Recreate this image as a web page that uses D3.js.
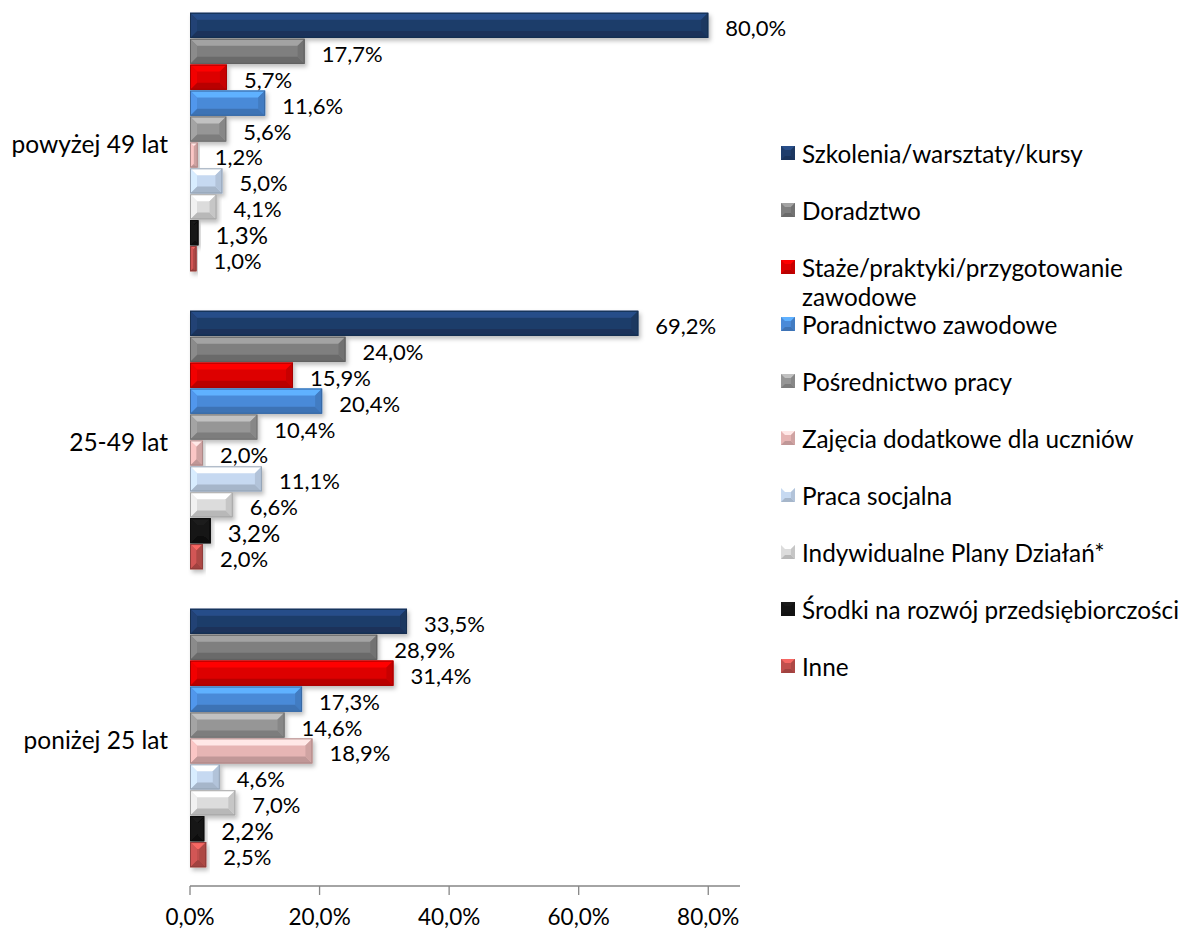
<!DOCTYPE html>
<html><head><meta charset="utf-8">
<script src="https://cdn.jsdelivr.net/npm/d3@7"></script>
<style>body{margin:0;background:#fff;} text{font-family:Lato, "Open Sans", sans-serif;fill:#000;}</style>
</head><body>
<svg id="c" width="1187" height="931"></svg>
<script>
const categories = ["powyżej 49 lat", "25-49 lat", "poniżej 25 lat"];
const seriesNames = ["Szkolenia/warsztaty/kursy","Doradztwo","Staże/praktyki/przygotowanie zawodowe","Poradnictwo zawodowe","Pośrednictwo pracy","Zajęcia dodatkowe dla uczniów","Praca socjalna","Indywidualne Plany Działań*","Środki na rozwój przedsiębiorczości","Inne"];
const seriesColors = ["#1F3D6B","#7F7F7F","#DD0000","#4A8AD8","#969696","#E6B5B4","#C6D9F1","#DCDCDC","#141414","#C0504D"];
const valuesPowyzej49 = [80.0,17.7,5.7,11.6,5.6,1.2,5.0,4.1,1.3,1.0];
const values25to49 = [69.2,24.0,15.9,20.4,10.4,2.0,11.1,6.6,3.2,2.0];
const valuesPonizej25 = [33.5,28.9,31.4,17.3,14.6,18.9,4.6,7.0,2.2,2.5];
const xTicks = [0,20,40,60,80];

const groups = [valuesPowyzej49, values25to49, valuesPonizej25];
const svg = d3.select("#c");
const defs = svg.append("defs");
const f = defs.append("filter").attr("id","sh").attr("x","-10%").attr("y","-20%").attr("width","130%").attr("height","160%");
f.append("feDropShadow").attr("dx",2).attr("dy",3).attr("stdDeviation",2).attr("flood-color","#000").attr("flood-opacity",0.25);

const x = d3.scaleLinear().domain([0,84.9]).range([190,740]);
const y0 = d3.scaleBand().domain(categories).range([-7,887]).paddingInner(0).paddingOuter(0);
const y1 = d3.scaleBand().domain(d3.range(10)).range([19,279]).padding(0.03);
const fmt = v => d3.format(".1f")(v).replace(".",",") + "%";
const pts = a => a.map(p=>p.join(",")).join(" ");

const plot = svg.append("g");
categories.forEach((cat, gi) => {
  const g = plot.append("g").attr("transform",`translate(0,${y0(cat)})`);
  groups[gi].forEach((v, si) => {
    const c = d3.color(seriesColors[si]);
    const x0 = x(0), x1 = x(v), yt = y1(si), h = y1.bandwidth(), yb = yt + h;
    const w = x1 - x0;
    const b = Math.min(7, w/2, h/2.6);
    const bg = g.append("g").attr("filter","url(#sh)");
    bg.append("rect").attr("x",x0).attr("y",yt).attr("width",w).attr("height",h).attr("fill",c.formatHex());
    const ix0=x0+b, ix1=x1-b, iy0=yt+b, iy1=yb-b;
    bg.append("polygon").attr("points",pts([[x0,yt],[x1,yt],[ix1,iy0],[ix0,iy0]])).attr("fill",c.brighter(0.7).formatHex());
    bg.append("polygon").attr("points",pts([[x0,yb],[x1,yb],[ix1,iy1],[ix0,iy1]])).attr("fill",c.darker(0.5).formatHex());
    bg.append("polygon").attr("points",pts([[x0,yt],[ix0,iy0],[ix0,iy1],[x0,yb]])).attr("fill",c.brighter(0.25).formatHex());
    bg.append("polygon").attr("points",pts([[x1,yt],[ix1,iy0],[ix1,iy1],[x1,yb]])).attr("fill",c.darker(0.3).formatHex());
    bg.append("rect").attr("x",x0+0.5).attr("y",yt+0.5).attr("width",Math.max(0,w-1)).attr("height",h-1).attr("fill","none").attr("stroke",c.darker(0.8).formatHex()).attr("stroke-width",1);
    g.append("text").attr("x",x1+17).attr("y",yt+h/2+2).attr("dominant-baseline","central")
      .style("font-size", si===8 ? "24px" : "22px").text(fmt(v));
  });
  svg.append("text").attr("x",168).attr("y",y0(cat)+y0.bandwidth()/2+1).attr("text-anchor","end")
    .attr("dominant-baseline","central").style("font-size","24.5px").text(cat);
});

// x axis
const ax = svg.append("g").attr("transform","translate(0,886)");
ax.append("line").attr("x1",190).attr("x2",740).attr("y1",0).attr("y2",0).attr("stroke","#868686").attr("stroke-width",1.3);
ax.selectAll("line.t").data(xTicks).join("line").attr("class","t").attr("x1",d=>x(d)).attr("x2",d=>x(d)).attr("y1",0).attr("y2",9).attr("stroke","#868686").attr("stroke-width",1.3);
ax.selectAll("text").data(xTicks).join("text").attr("x",d=>x(d)).attr("y",30).attr("text-anchor","middle")
  .attr("dominant-baseline","central").style("font-size","22.5px").text(d=>fmt(d));

// legend
const lg = svg.append("g");
seriesNames.forEach((n, i) => {
  const cy = 153 + i*57;
  const c = d3.color(seriesColors[i]);
  const s = 14, lx = 781, ly = cy - 7;
  lg.append("rect").attr("x",lx).attr("y",ly).attr("width",s).attr("height",s).attr("fill",c.formatHex());
  const b=4;
  lg.append("polygon").attr("points",pts([[lx,ly],[lx+s,ly],[lx+s-b,ly+b],[lx+b,ly+b]])).attr("fill",c.brighter(0.7).formatHex());
  lg.append("polygon").attr("points",pts([[lx,ly+s],[lx+s,ly+s],[lx+s-b,ly+s-b],[lx+b,ly+s-b]])).attr("fill",c.darker(0.5).formatHex());
  lg.append("polygon").attr("points",pts([[lx+s,ly],[lx+s-b,ly+b],[lx+s-b,ly+s-b],[lx+s,ly+s]])).attr("fill",c.darker(0.3).formatHex());
  if (i === 2) {
    lg.append("text").attr("x",802).attr("y",cy).attr("dominant-baseline","central").style("font-size","24.3px").text("Staże/praktyki/przygotowanie");
    lg.append("text").attr("x",802).attr("y",cy+29).attr("dominant-baseline","central").style("font-size","24.3px").text("zawodowe");
  } else {
    lg.append("text").attr("x",802).attr("y",cy).attr("dominant-baseline","central").style("font-size","24.3px").text(n);
  }
});
</script>
</body></html>
